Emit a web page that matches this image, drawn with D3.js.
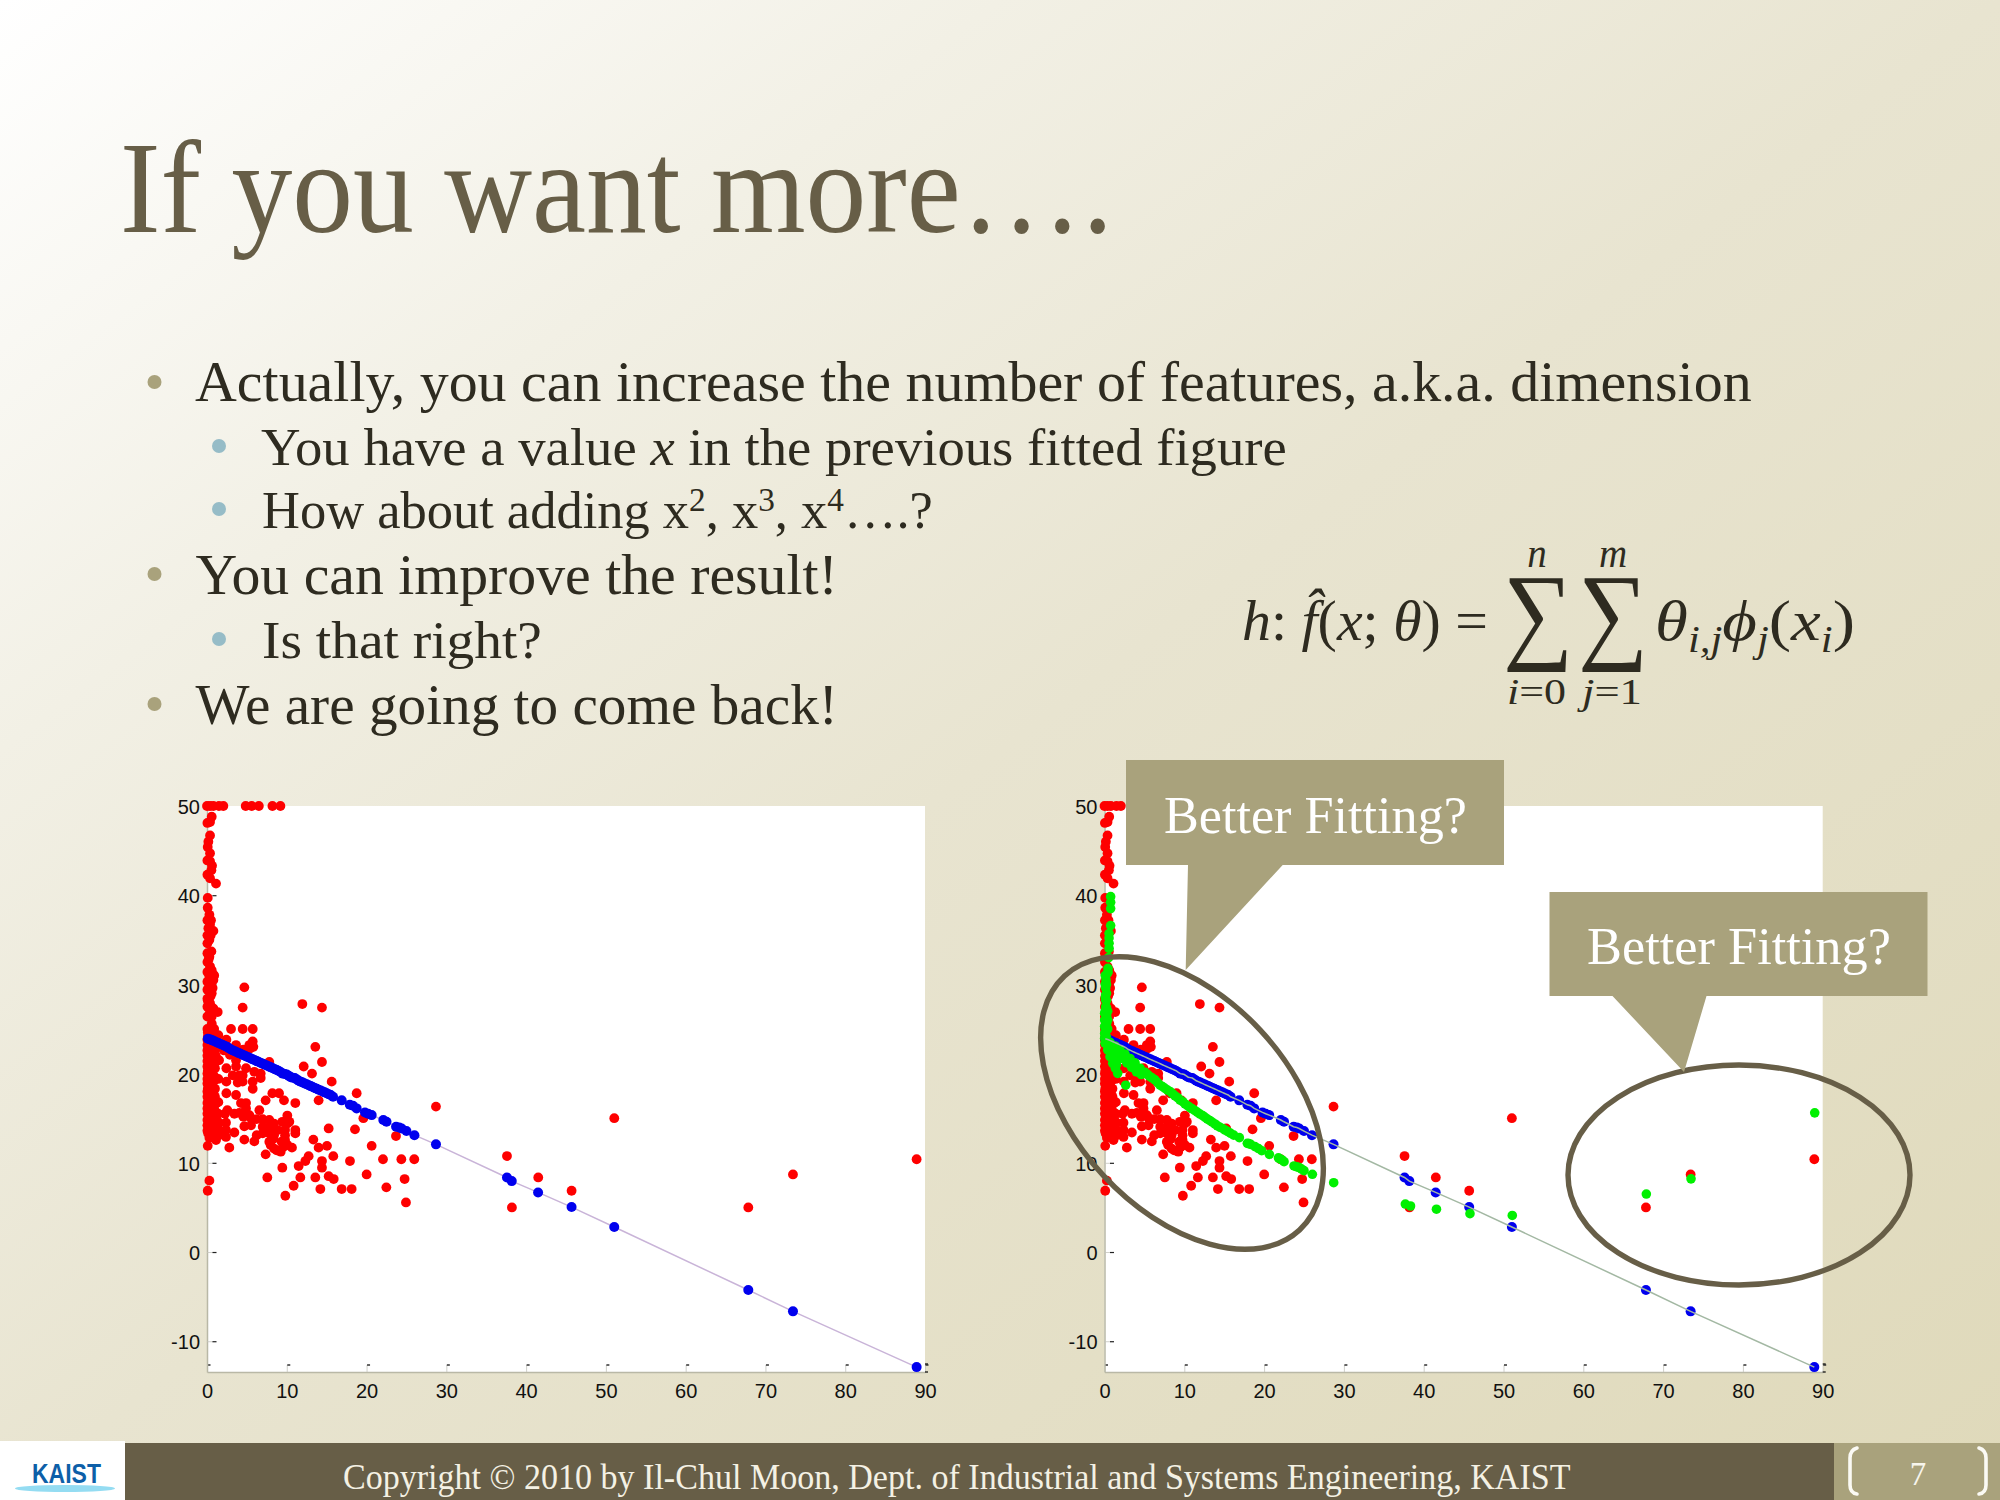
<!DOCTYPE html>
<html>
<head>
<meta charset="utf-8">
<style>html,body{margin:0;padding:0;background:#fff}svg{display:block}</style>
<script src="https://cdn.jsdelivr.net/npm/d3@7"></script>
</head>
<body>
<script>
const titleText = "If you want more….";
const copyrightText = "Copyright © 2010 by Il-Chul Moon, Dept. of Industrial and Systems Engineering, KAIST";
const pageNumber = "7";
const calloutText = "Better Fitting?";
const logoText = "KAIST";
const xTicks = [0,10,20,30,40,50,60,70,80,90];
const yTicks = [-10,0,10,20,30,40,50];

const redX = [0,.38,.8,1.5,2.05,4.85,5.6,6.5,8.2,9.2,
 .38,.05,.59,.38,.17,.09,.38,.05,.38,.63,.55,.05,.38,1.13,.09,.09,.3,.05,.5,.38,.17,.8,.05,.46,.3,.05,.55,.05,.3,.05,.38,.05,.59,.8,.3,.8,.05,.46,.05,.59,.05,.38,.05,.8,.38,.05,.59,.2,.7,.1,.45,.9,.25,.6,
 .05,.3,.6,.9,.1,.5,.3,.8,.1,.6,1.0,.05,.35,.8,.2,.6,.05,.4,.9,.2,.7,1.2,.05,.5,.3,.9,.05,.6,1.1,.2,.8,.05,.45,.3,.9,.05,.6,.15,.4,1.0,.1,.7,.05,.4,.25,.9,.6,.05,.5,1.1,.2,.8,.05,.45,.3,.7,.1,1.0,.05,.5,.3,.8,.05,.6,1.0,.2,.8,.05,.45,1.2,.3,.9,.05,.6,.2,1.0,.05,.5,1.4,.3,.8,.05,.6,1.2,.2,1.0,1.5,.05,.5,.9,.3,.7,1.3,.05,.5,1.0,1.6,.15,.7,1.2,.4,.9,1.5,.3,.8,
 4.68,4.47,11.95,14.41,1.34,3.01,4.47,5.73,1.42,2.43,3.64,5.73,5.31,5.81,5.39,13.58,4.56,2.13,2.88,1.51,3.64,7.81,14.41,12.12,3.64,2.43,4.89,13.16,5.93,6.73,3.22,4.05,4.47,6.73,1.42,2.43,3.85,4.47,5.73,15.63,5.73,2.43,3.64,8.19,9.03,18.76,7.35,9.65,13.99,1.42,11.07,4.26,4.89,28.7,4.89,6.56,2.55,5.31,10.07,2.26,3.43,4.05,19.6,5.52,6.23,6.98,7.81,9.44,10.07,2.38,8.4,4.68,5.52,6.98,8.15,15.25,18.55,11.07,2.38,8.1,9.78,3.43,11.07,6.23,6.98,7.81,8.4,9.78,2.38,23.69,4.68,1.13,5.93,13.33,9.78,7.81,9.36,8.4,20.64,13.99,15.04,2.8,10.65,.09,9.24,7.98,7.35,12.74,15.83,12.33,14.41,17.92,22.06,24.36,25.98,11.49,14.41,9.44,7.56,11.7,13.58,15.25,15.88,20.01,24.77,.3,10.86,22.48,.09,14.21,16.88,18.13,9.82,24.94,
 8.86,7.48,10.07,8.73,9.57,8.31,10.32,4.56,
 37.6,41.52,45.7,38.22,51.05,67.85,73.45,88.95];
const redY = [50,50,50,50,50,50,50,50,50,50,
 48.2,48.1,48.8,46.7,46,45.4,44.7,43.9,43.8,43.3,42.8,42.3,41.9,41.3,39.7,38.6,37.8,37.2,37.2,36.7,36.3,36,35.5,35.5,35,34.6,33.7,33.5,33.1,32.5,32,31.4,31.6,31.05,30.9,30.5,30.3,29.9,29.4,29,28.4,27.9,27.5,27.3,26.9,26.4,26.4,32.8,29.6,28.2,28.7,31,30.2,25.6,
 25,25,25,25,24.6,24.6,24.4,24.4,24.1,24.1,24.1,23.8,23.8,23.8,23.5,23.5,23.2,23.2,23.2,22.9,22.9,22.9,22.6,22.6,22.3,22.3,22,22,22,21.7,21.7,21.4,21.4,21.1,21.1,20.8,20.8,20.8,20.6,20.6,20.3,20.3,20,20,19.7,19.7,19.7,19.4,19.4,19.4,19.1,19.1,18.9,18.9,18.6,18.6,18.3,18.3,18,18,17.8,17.8,17.4,17.4,17.4,17,17,16.7,16.7,16.7,16.4,16.4,16.1,16.1,15.8,15.8,15.5,15.5,15.5,15.1,15.1,14.8,14.8,14.8,14.5,14.5,14.5,14.2,14.2,14.2,13.9,13.9,13.9,13.6,13.6,13.6,13.6,13.3,13.3,13.3,13.1,13.1,13.1,12.8,12.8,
 29.67,27.4,27.8,27.4,26.9,25,25,25,24.3,23.8,23.2,23.6,23.2,23,22.8,23,22.7,22.6,22.1,21.5,21.5,21.3,21.3,20.8,20.8,20.6,20.6,20,20.2,20,19.8,19.8,19.8,19.5,19.4,19.1,19,19.1,19.1,19.1,18.3,17.8,17.6,17.8,17.8,17.8,17,17,17,16.8,16.7,16.7,16.7,16.3,16.1,15.9,15.9,15.35,15.3,15.5,15.5,15.6,15,15,14.9,14.9,14.8,14.6,14.4,14.5,14.4,14.1,14.2,14.05,14.05,13.85,13.75,13.67,13.67,13.75,13.67,13.4,13.3,13.1,13.3,13.3,13.1,13.1,12.9,13,12.6,12.55,12.4,12.6,12.55,12.36,12.36,11.6,11.9,11.7,11.9,11.7,11.7,11.9,11.25,12,10.95,10.75,10.75,10.2,10.2,10.2,10.4,10.4,10.4,9.64,9.45,9.45,8.36,8.36,8.36,8.5,8.18,8.7,8.18,8,7.43,7.25,6.87,7.06,7.06,7.06,6.31,5.56,
 13.67,13.85,12,11.4,11.8,12.7,14.6,15.17,
 10.76,8.36,6.87,5,15,5,8.7,10.4];

const blueX = [.1,.3,.5,.75,1,1.25,1.5,1.75,2,2.25,2.5,2.75,3,3.25,3.5,3.75,4,4.25,4.5,4.75,5,5.25,5.5,5.75,6,6.25,6.5,6.75,7,7.25,7.5,7.75,8,8.25,8.5,8.75,9,9.25,9.5,9.75,10,10.25,10.5,10.75,11,11.25,11.5,11.75,12,12.25,12.5,12.75,13,13.25,13.5,13.75,14,14.25,14.5,14.75,15,15.25,15.5,15.8,16.88,17.9,18.3,18.76,19.8,20.2,20.64,22.1,22.5,23.7,24.1,24.4,25,26,28.7,37.6,38.2,41.5,45.7,51.05,67.85,73.45,88.95];
const blueY = [23.9,23.85,23.8,23.7,23.6,23.5,23.4,23.3,23.2,23.1,23,22.85,22.7,22.6,22.5,22.4,22.3,22.2,22.1,22,21.9,21.8,21.7,21.6,21.5,21.4,21.3,21.2,21.1,21,20.9,20.8,20.7,20.6,20.5,20.4,20.3,20.15,20,19.95,19.9,19.75,19.6,19.55,19.5,19.35,19.2,19.1,19,18.9,18.8,18.7,18.6,18.5,18.4,18.3,18.2,18.1,18,17.9,17.8,17.7,17.6,17.4,17,16.5,16.4,16.1,15.65,15.5,15.35,14.8,14.6,14.05,13.95,13.85,13.56,13.1,12.07,8.36,7.95,6.68,5.04,2.8,-4.26,-6.65,-12.9];

const greenX = [.77,.77,.77,.77,.57,.57,.57,.57,.44,.36,.19,.15,.15,.15,.15,.27,.02,.02,.02,.02,.02,.27,.07,.4,.69,1.03,1.36,1.65,2.66,
 .69,1.32,1.95,2.57,3.2,3.83,4.45,5.08,5.7,6.33,6.96,7.58,8.21,8.84,9.46,10.09,10.72,11.34,11.97,12.6,13.22,13.85,14.48,15.1,15.81,16.9,17.9,18.32,18.86,19.7,20.66,22,22.5,23.75,24.4,25,26.05,28.72,
 3.2,3.83,37.7,38.35,41.6,45.8,51.1,67.9,73.5,89,
 .25,.25,.25,.25,.25,.25,.25,.1,.1,.1,.1,.1,.1,.4,.4,.4,.45,.52,.2,.55,.85,1.2,1.5,
 1,1.6,2.2,2.8,3.4,4,4.6,5.4,6,6.65,7.27,7.9,8.5,9.15,9.8,10.4,11,11.65,12.3,12.9,13.5,14.15,14.8,15.45,
 16.2,18.1,19.3,21.8,22.2,24.1,24.7];
const greenY = [39.84,39.2,38.5,36.6,35.7,35.2,34.6,34.05,31.8,31.24,30.5,29.56,28.8,28.25,27.5,26.4,26.76,26,25.3,24.5,23.96,25.64,23.4,22.65,21.9,21.15,20.6,20.03,18.7,
 23.5,23.1,22.65,22.2,21.7,21.2,20.6,20.14,19.66,19.3,18.7,18.35,18,17.5,17.04,16.6,16.2,15.85,15.47,15.1,14.73,14.35,13.98,13.68,13.31,12.82,12.18,12.07,11.81,11.36,10.95,10.43,10.13,9.65,9.46,9.12,8.71,7.77,
 21.2,20.8,5.38,5.16,4.8,4.3,4.1,6.5,8.2,15.6,
 30,29,28.2,27.4,26.6,25.9,25.2,24.2,25,27,28.5,30,31,27,26,25,31.4,33,24.2,22.8,22.2,21.5,21,
 23,22.3,21.7,21.2,20.7,20.2,19.9,19.9,19.5,19,18.55,18.15,17.75,17.3,16.85,16.4,16.05,15.65,15.3,14.9,14.55,14.15,13.85,13.5,
 13.1,12.15,11.6,10.55,10.35,9.55,9.3];

const BODY = "'Liberation Serif', serif";
const svg = d3.select("body").append("svg").attr("width",2000).attr("height",1500).attr("viewBox","0 0 2000 1500");

const grad = svg.append("defs").append("linearGradient").attr("id","bg").attr("x1",0).attr("y1",0).attr("x2",1).attr("y2",1);
[[0,"#ffffff"],[.25,"#f2f0e5"],[.5,"#e8e4d0"],[1,"#dfd9ba"]].forEach(([o,c])=>grad.append("stop").attr("offset",o).attr("stop-color",c));
svg.append("rect").attr("width",2000).attr("height",1500).attr("fill","url(#bg)");

// text fitted to a horizontal extent
function fit(build, x0, x1, base, size, fill, family, weight){
  const t = svg.append("text").attr("font-family",family||BODY).attr("font-size",size).attr("fill",fill);
  if(weight) t.attr("font-weight",weight);
  build(t);
  const k = (x1-x0)/t.node().getComputedTextLength();
  t.attr("transform",`translate(${x0},${base}) scale(${k},1)`);
  return t;
}
const plain = s => t => t.text(s);

// title
fit(plain(titleText),120,1113,232,131,"#675e47");

// bullets
const INK = "#2e2b20", MAINB="#a9a27c", SUBB="#96bcc7";
const seg = (t,s,o={}) => { const e=t.append("tspan").text(s); Object.entries(o).forEach(([k,v])=>e.attr(k,v)); return e; };
fit(plain("Actually, you can increase the number of features, a.k.a. dimension"),195,1752,401,56,INK);
fit(t=>{seg(t,"You have a value ");seg(t,"x",{"font-style":"italic"});seg(t," in the previous fitted figure");},261,1287,465,52,INK);
fit(t=>{seg(t,"How about adding x");seg(t,"2",{dy:-17,"font-size":33});seg(t,", x",{dy:17});seg(t,"3",{dy:-17,"font-size":33});seg(t,", x",{dy:17});seg(t,"4",{dy:-17,"font-size":33});seg(t,"….?",{dy:17});},262,933,528,52,INK);
fit(plain("You can improve the result!"),195.5,838,594,56,INK);
fit(plain("Is that right?"),262,542,658,52,INK);
fit(plain("We are going to come back!"),195.5,838,724,56,INK);
[382,574,704].forEach(y=>svg.append("circle").attr("cx",154.5).attr("cy",y).attr("r",7).attr("fill",MAINB));
[446,509,639].forEach(y=>svg.append("circle").attr("cx",219).attr("cy",y).attr("r",7).attr("fill",SUBB));

// formula
const I={"font-style":"italic"};
fit(t=>{seg(t,"h",I);seg(t,": ");seg(t,"f\u0302",I);seg(t,"(");seg(t,"x",I);seg(t,"; ");seg(t,"θ",I);seg(t,") =");},1242,1488,640,58,INK);
fit(t=>{seg(t,"θ",I);seg(t,"i,j",{dy:12,"font-size":37,"font-style":"italic"});seg(t,"ϕ",{dy:-12,"font-style":"italic"});seg(t,"j",{dy:12,"font-size":37,"font-style":"italic"});seg(t,"(",{dy:-12});seg(t,"x",I);seg(t,"i",{dy:12,"font-size":37,"font-style":"italic"});seg(t,")",{dy:-12});},1655,1855,640,58,INK);
function inkFit(s,x0,x1,y0,y1,fill){
  const c=document.createElement("canvas").getContext("2d");
  c.font="100px 'Liberation Serif'";
  const m=c.measureText(s),L=m.actualBoundingBoxLeft,R=m.actualBoundingBoxRight,A=m.actualBoundingBoxAscent,D=m.actualBoundingBoxDescent;
  const sx=(x1-x0)/(L+R),sy=(y1-y0)/(A+D);
  svg.append("text").attr("font-family",BODY).attr("font-size",100).attr("fill",fill)
    .attr("transform",`translate(${x0+L*sx},${y0+A*sy}) scale(${sx},${sy})`).text(s);
}
inkFit("∑",1507,1567,578,673,INK);
inkFit("∑",1582,1642,578,673,INK);
[["n",1537,567],["m",1613,567]].forEach(([s,x,y])=>svg.append("text").attr("font-family",BODY).attr("font-style","italic").attr("font-size",39).attr("fill",INK).attr("text-anchor","middle").attr("x",x).attr("y",y).text(s));
fit(t=>{seg(t,"i",I);seg(t,"=0");},1507,1566,704,35,INK);
fit(t=>{seg(t,"j",I);seg(t,"=1");},1582,1642,704,35,INK);

// scatter panels
function panel(x0,x1,showGreen,lineColor){
  const x=d3.scaleLinear().domain([0,90]).range([x0,x1]);
  const y=d3.scaleLinear().domain([-13.45,50]).range([1372,806]);
  const g=svg.append("g");
  g.append("rect").attr("x",x0).attr("y",806).attr("width",x1-x0).attr("height",566).attr("fill","#fff");
  const ax=g.append("g").attr("transform","translate(0,1372)").call(d3.axisBottom(x).tickValues(xTicks).tickFormat(String).tickSizeInner(-7).tickSizeOuter(0).tickPadding(12));
  const ay=g.append("g").attr("transform",`translate(${x0},0)`).call(d3.axisLeft(y).tickValues(yTicks).tickFormat(String).tickSizeInner(-6).tickSizeOuter(0).tickPadding(7));
  [ax,ay].forEach(a=>{
    a.attr("font-family","'Liberation Sans', sans-serif").attr("font-size",20);
    a.select(".domain").attr("stroke","#b9b8a6").attr("stroke-width",1.5);
    a.selectAll(".tick line").attr("stroke","#c4c4bc").attr("stroke-width",.8);
    a.selectAll(".tick text").attr("fill","#111");
  });
  ay.selectAll(".tick text").attr("dy","0.38em");
  ax.selectAll(".tick").append("line").attr("x1",0).attr("x2",3).attr("y1",-7).attr("y2",-7).attr("stroke","#222").attr("stroke-width",1.4);
  ay.selectAll(".tick").append("line").attr("x1",5.5).attr("x2",9.5).attr("y1",0).attr("y2",0).attr("stroke","#222").attr("stroke-width",1.2);
  [1364,1372].forEach(v=>g.append("line").attr("x1",x1).attr("x2",x1+3).attr("y1",v).attr("y2",v).attr("stroke","#222").attr("stroke-width",1.4));

  const dots=(xs,ys,c,r)=>g.append("g").selectAll("circle").data(xs).join("circle")
    .attr("cx",d=>x(d)).attr("cy",(d,i)=>y(ys[i])).attr("r",r).attr("fill",c);
  const fitLine=()=>g.append("path").datum(blueX)
    .attr("d",d3.line().x(d=>x(d)).y((d,i)=>y(blueY[i])))
    .attr("fill","none").attr("stroke",lineColor).attr("stroke-width",1.5);
  dots(redX,redY,"#fe0000",4.9);
  if(showGreen){
    dots(blueX,blueY,"#0000ee",5);
    dots(greenX,greenY,"#00f000",4.8);
    fitLine();
  } else {
    fitLine();
    dots(blueX,blueY,"#0000ee",5);
  }
}
panel(207,925,false,"#c9b4d8");
panel(1104.5,1822.7,true,"#a3b8a3");

// ellipses
const RING="#675e47";
svg.append("ellipse").attr("rx",173).attr("ry",107).attr("transform","translate(1182,1103) rotate(47.2)")
  .attr("fill","none").attr("stroke",RING).attr("stroke-width",5.4);
svg.append("ellipse").attr("cx",1739).attr("cy",1175).attr("rx",171).attr("ry",110)
  .attr("fill","none").attr("stroke",RING).attr("stroke-width",5.4);

// callouts
const CALL="#a9a27c";
svg.append("path").attr("fill",CALL).attr("d","M1126,760H1504V865H1282.7L1185.7,970L1188,865H1126Z");
svg.append("path").attr("fill",CALL).attr("d","M1549.5,892H1927.5V996H1706.5L1684,1072L1612.5,996H1549.5Z");
fit(plain(calloutText),1164,1467,832.5,52,"#fff");
fit(plain(calloutText),1587,1891,963.5,52,"#fff");

// footer
svg.append("rect").attr("x",0).attr("y",1441).attr("width",125).attr("height",59).attr("fill","#fff");
svg.append("rect").attr("x",125).attr("y",1443).attr("width",1709).attr("height",57).attr("fill","#675e47");
svg.append("rect").attr("x",1834).attr("y",1443).attr("width",166).attr("height",57).attr("fill","#a9a27c");
fit(plain(copyrightText),343,1571,1488.5,35,"#f4f1e4");
svg.append("text").attr("x",1918).attr("y",1485).attr("text-anchor","middle").attr("font-family",BODY).attr("font-size",33).attr("fill","#f7f5ec").text(pageNumber);
svg.append("path").attr("fill","none").attr("stroke","#fbfaf4").attr("stroke-width",3.6).attr("stroke-linecap","round")
  .attr("d","M1857,1448Q1850,1450 1850,1458V1485Q1850,1493 1857,1494");
svg.append("path").attr("fill","none").attr("stroke","#fbfaf4").attr("stroke-width",3.6).attr("stroke-linecap","round")
  .attr("d","M1979,1448Q1986,1450 1986,1458V1485Q1986,1493 1979,1494");
svg.append("ellipse").attr("cx",65).attr("cy",1488.5).attr("rx",50).attr("ry",3.6).attr("fill","#94dcf2");
fit(plain(logoText),32,101,1483,28,"#0d5fa8","'Liberation Sans', sans-serif","bold");
</script>
</body>
</html>
